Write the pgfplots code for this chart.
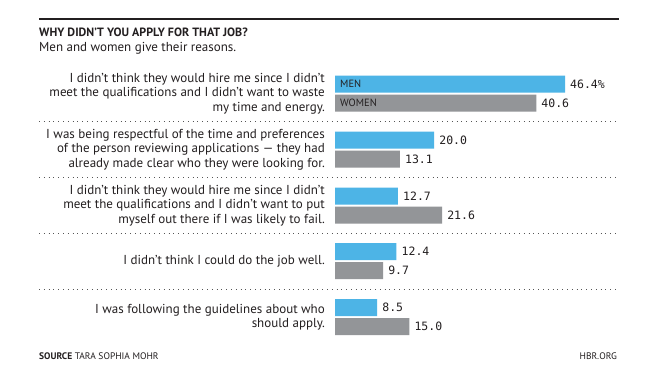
\documentclass[border=0pt]{standalone}
\usepackage{fontspec}
\setmainfont{PT Sans}
\newfontfamily\monofont{DejaVu Sans Mono}
\usepackage{pgfplots}
\pgfplotsset{compat=1.18}
\definecolor{menblue}{HTML}{4DB4E6}
\definecolor{womengray}{HTML}{939598}
\definecolor{txt}{HTML}{231F20}
\definecolor{dotc}{HTML}{555555}

\begin{document}
\begin{tikzpicture}[x=1pt,y=1pt]
\useasboundingbox[fill=white] (0,0) rectangle (661,-372);
\draw[txt, line width=2pt] (39,-19) -- (619,-19);
\node[anchor=base west, font=\bfseries\fontsize{12}{13}\selectfont, text=txt, inner sep=0] at (39,-36.5) {WHY DIDN’T YOU APPLY FOR THAT JOB?};
\node[anchor=base west, font=\fontsize{13}{14}\selectfont, text=txt, inner sep=0] at (39,-51) {Men and women give their reasons.};

\begin{axis}[
  at={(335pt,0pt)}, anchor=north west,
  scale only axis, width=247.85pt, height=372pt,
  xmin=0, xmax=50, ymin=-372, ymax=0,
  axis lines=none, ticks=none, clip=false,
  xbar, bar width=17pt, /pgf/bar shift=0pt,
  nodes near coords, point meta=explicit symbolic,
  nodes near coords style={font=\monofont\fontsize{11.5}{12}\selectfont, text=txt, anchor=west, inner sep=0pt, xshift=5pt},
]
\addplot[fill=menblue, draw=none] coordinates {
  (46.4,-84) [46.4\%]
  (20.0,-140) [20.0]
  (12.7,-196) [12.7]
  (12.4,-251.5) [12.4]
  (8.5,-307.5) [8.5]
};
\addplot[fill=womengray, draw=none] coordinates {
  (40.6,-103) [40.6]
  (13.1,-159) [13.1]
  (21.6,-215) [21.6]
  (9.7,-270.5) [9.7]
  (15.0,-326.5) [15.0]
};
\end{axis}

\node[anchor=west, font=\fontsize{10.5}{12}\selectfont, text=txt, inner sep=0] at (340,-84) {MEN};
\node[anchor=west, font=\fontsize{10.5}{12}\selectfont, text=txt, inner sep=0] at (340,-103) {WOMEN};

\foreach \yy in {121,177,233,289} {
  \draw[dotc, line width=0.9pt, dash pattern=on 0.9pt off 3.9pt] (39,-\yy) -- (617,-\yy);
}

\tikzset{lab/.style={anchor=east, align=right, font=\fontsize{13}{14.5}\selectfont, text=txt, inner sep=0}}
\node[lab] at (325,-93.5) {I didn’t think they would hire me since I didn’t\\meet the qualifications and I didn’t want to waste\\my time and energy.};
\node[lab] at (325,-149.5) {I was being respectful of the time and preferences\\of the person reviewing applications — they had\\already made clear who they were looking for.};
\node[lab] at (325,-205.5) {I didn’t think they would hire me since I didn’t\\meet the qualifications and I didn’t want to put\\myself out there if I was likely to fail.};
\node[lab] at (325,-261) {I didn’t think I could do the job well.};
\node[lab] at (325,-317) {I was following the guidelines about who\\should apply.};

\node[anchor=base west, font=\fontsize{9.5}{11}\selectfont, text=txt, inner sep=0] at (39,-359.5) {\textbf{SOURCE} TARA SOPHIA MOHR};
\node[anchor=base east, font=\fontsize{9.5}{11}\selectfont, text=txt, inner sep=0] at (617,-359.5) {HBR.ORG};
\end{tikzpicture}
\end{document}
